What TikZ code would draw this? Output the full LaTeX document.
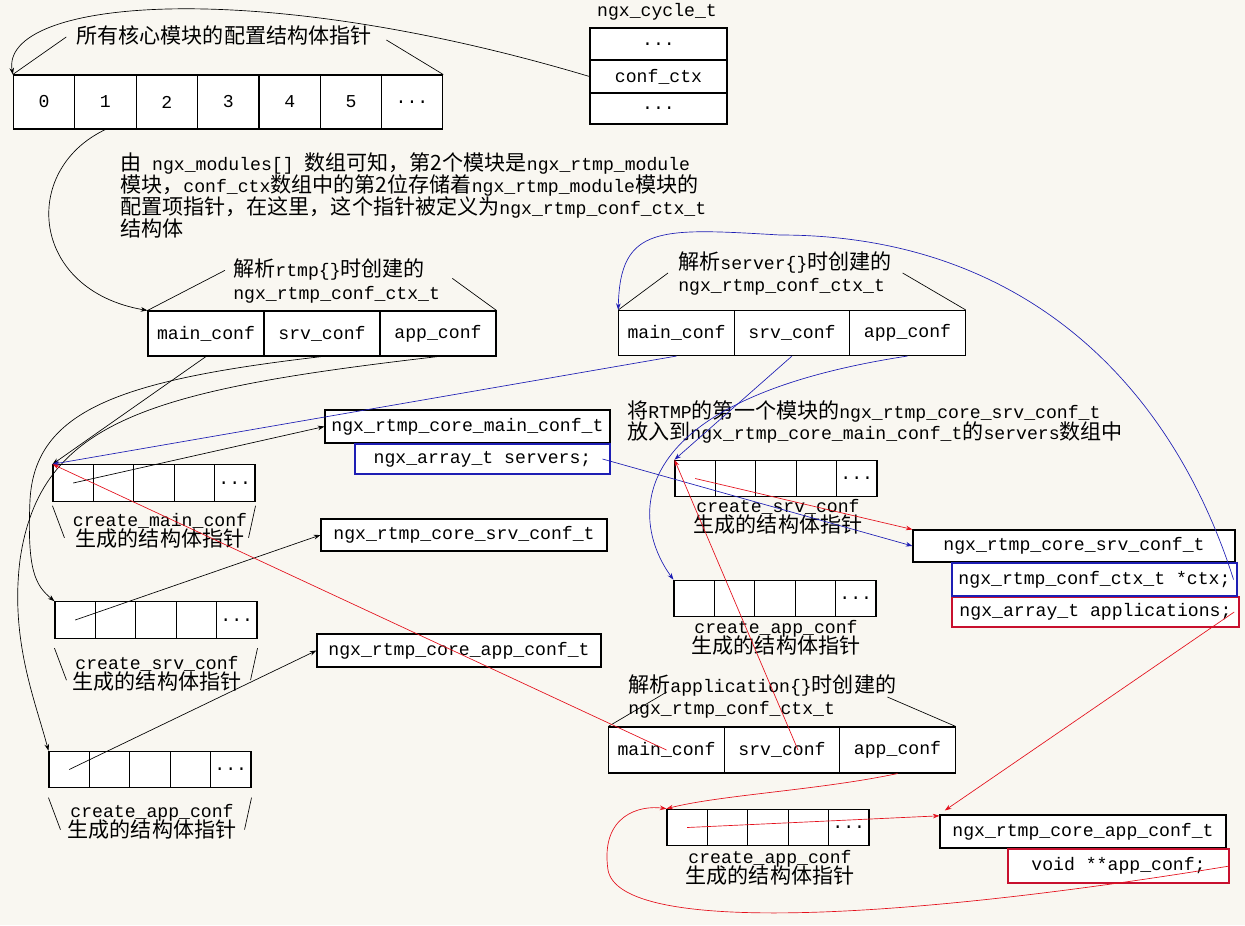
\documentclass[tikz,border=0pt]{standalone}
\usepackage{fontspec}
\setmainfont{Liberation Mono}
\newfontfamily\cjk{Noto Sans CJK SC}
\usetikzlibrary{arrows.meta}
\definecolor{rtBg}{HTML}{F9F7F1}
\definecolor{rtBlue}{HTML}{1E1EB4}
\definecolor{rtRed}{HTML}{E4101C}
\definecolor{rtCrimson}{HTML}{C8102E}
\newcommand\zh[1]{{\cjk\fontsize{15.8pt}{16pt}\selectfont #1}}
\newcommand\rtlead[1]{\fontsize{13.6pt}{#1}\selectfont\lineskiplimit=-30pt\relax}
\tikzset{
  rt cell/.style={draw, fill=white, line width=0.8pt, minimum width=30.3pt, minimum height=27.4pt, inner sep=0pt, font=\rtlead{16pt}},
  rt field/.style={draw, fill=white, line width=0.8pt, minimum height=24.75pt, inner sep=0pt, font=\rtlead{16pt}},
  rt label/.style={inner sep=0pt, font=\rtlead{15pt}},
  rt brace/.style={draw=black, line width=0.5pt},
  rt ptr/.style={draw=black, line width=0.5pt, -{Stealth[length=5pt,width=3.5pt]}},
  rt blue/.style={rt ptr, draw=rtBlue},
  rt red/.style={rt ptr, draw=rtRed},
}

\begin{document}
\begin{tikzpicture}[x=0.75pt,y=-0.75pt]
  \fill[rtBg] (0,0) rectangle (1245,925);
  \useasboundingbox (0,0) rectangle (1245,925);
  % conf_ctx array of ngx_cycle_t
  \foreach \i in {0,...,5}{\node[rt cell, minimum width=46pt, minimum height=40.5pt] (core\i) at (44+61.43*\i,102) {\i};}
  \node[rt cell, minimum width=46pt, minimum height=40.5pt] (core6) at (412,102) {...};
  \node[rt label] (coretitle) at (224,35) {\zh{所有核心模块的配置结构体指针}};
  \draw[rt brace] (core0.north west) -- ([xshift=-7.5pt,yshift=-1.5pt]coretitle.west);
  \draw[rt brace] ([xshift=11pt,yshift=-3.75pt]coretitle.east) -- (core6.north east);
  \node[rt label] (cycletitle) at (657,12) {ngx\_cycle\_t};
  \node[rt field, minimum width=102.75pt, minimum height=24pt] (cycletop) at (658.5,44) {...};
  \node[rt field, minimum width=102.75pt] (cyclectx) at (658.5,76.5) {conf\_ctx};
  \node[rt field, minimum width=102.75pt, minimum height=23.25pt] (cyclebot) at (658.5,108.5) {...};
  \node[rt label, anchor=north west, align=left, font=\rtlead{16.5pt}] (note) at (120,152)
    {\zh{由} ngx\_modules[] \zh{数组可知，第2个模块是}ngx\_rtmp\_module\\\zh{模块，}conf\_ctx\zh{数组中的第2位存储着}ngx\_rtmp\_module\zh{模块的}\\\zh{配置项指针，在这里，这个指针被定义为}ngx\_rtmp\_conf\_ctx\_t\\\zh{结构体}};
  % the three ngx_rtmp_conf_ctx_t
  \foreach \i/\t/\x in {main/main\_conf/206,srv/srv\_conf/322,app/app\_conf/438}{\node[rt field, minimum width=87pt, minimum height=33.75pt] (rtmp\i) at (\x,333.5) {\t};}
  \foreach \i/\t/\x in {main/main\_conf/676.5,srv/srv\_conf/792,app/app\_conf/907.5}{\node[rt field, minimum width=86.6pt, minimum height=33.75pt] (srv\i) at (\x,333) {\t};}
  \foreach \i/\t/\x in {main/main\_conf/666.5,srv/srv\_conf/782,app/app\_conf/897.5}{\node[rt field, minimum width=86.6pt, minimum height=34.5pt] (app\i) at (\x,750) {\t};}
  \node[rt label, anchor=west, align=left, font=\rtlead{17pt}] (rtmphead) at (233,281) {\zh{解析}rtmp\{\}\zh{时创建的}\\ngx\_rtmp\_conf\_ctx\_t};
  \node[rt label, anchor=west, align=left, font=\rtlead{16.5pt}] (srvhead) at (678,273) {\zh{解析}server\{\}\zh{时创建的}\\ngx\_rtmp\_conf\_ctx\_t};
  \node[rt label, anchor=west, align=left, font=\rtlead{16.5pt}] (apphead) at (628,696) {\zh{解析}application\{\}\zh{时创建的}\\ngx\_rtmp\_conf\_ctx\_t};
  \draw[rt brace] (rtmpmain.north west) -- ([xshift=-6pt,yshift=8pt]rtmphead.west);
  \draw[rt brace] ([xshift=9pt,yshift=2pt]rtmphead.east) -- (rtmpapp.north east);
  \draw[rt brace] (srvmain.north west) -- ([xshift=-7.5pt]srvhead.west);
  \draw[rt brace] ([xshift=8pt]srvhead.east) -- (srvapp.north east);
  \draw[rt brace] (appmain.north west) -- ([xshift=29pt,yshift=3pt]apphead.west);
  \draw[rt brace] ([xshift=-6.75pt,yshift=-0.75pt]apphead.east) -- (appapp.north east);
  % pointer arrays made by create_*_conf
  \foreach \n/\x/\y in {A/53/483,B/55/620,C/49/769.5,D/675/478.5,E/674/598.5,F/667/827.5}{
    \foreach \i in {0,...,3}{\node[rt cell] (\n\i) at (\x+20.2+40.4*\i,\y) {};}
    \node[rt cell] (\n4) at (\x+181.8,\y) {...};}
  \foreach \n/\t/\x/\y in {A/main/160/531,B/srv/157/673.5,C/app/152/822,D/srv/778/517,E/app/776/638,F/app/770/868}{\node[rt label, align=center] (\n label) at (\x,\y) {create\_\t\_conf\\\zh{生成的结构体指针}};}
  \foreach \n/\s in {A/3,B/7,C/7}{
    \draw[rt brace] ([yshift=-\s pt]\n0.south west) -- ++(12,32);
    \draw[rt brace] ([yshift=-\s pt]\n4.south east) -- ++(-7,32);}
  % module conf structs
  \node[rt field, minimum width=213.75pt] (mainL) at (467.5,426.5) {ngx\_rtmp\_core\_main\_conf\_t};
  \node[rt field, draw=rtBlue, minimum width=191.25pt, minimum height=22.5pt] (servers) at (482.5,459) {ngx\_array\_t servers;};
  \node[rt field, minimum width=214.5pt, minimum height=24pt] (srvL) at (464,535) {ngx\_rtmp\_core\_srv\_conf\_t};
  \node[rt field, minimum width=213pt] (appL) at (459,650.5) {ngx\_rtmp\_core\_app\_conf\_t};
  \node[rt label, anchor=north west, align=left, font=\rtlead{15.75pt}] (srvnote) at (627,400)
    {\zh{将}RTMP\zh{的第一个模块的}ngx\_rtmp\_core\_srv\_conf\_t\\\zh{放入到}ngx\_rtmp\_core\_main\_conf\_t\zh{的}servers\zh{数组中}};
  \node[rt field, minimum width=241.5pt, minimum height=24pt] (rsrv) at (1074,546) {ngx\_rtmp\_core\_srv\_conf\_t};
  \node[rt field, draw=rtCrimson, minimum width=215.25pt, minimum height=22.5pt] (apps) at (1095.5,612) {ngx\_array\_t applications;};
  \node[rt field, draw=rtBlue, minimum width=213.75pt] (ctxfield) at (1094.5,579.5) {ngx\_rtmp\_conf\_ctx\_t *ctx;};
  \node[rt field, minimum width=214.5pt] (rapp) at (1083,831.5) {ngx\_rtmp\_core\_app\_conf\_t};
  \node[rt field, draw=rtCrimson, minimum width=165.75pt, minimum height=25.5pt] (voidf) at (1118.5,866) {void **app\_conf;};
  % black pointers
  \draw[rt ptr] (cyclectx.west) .. controls (250,-25) and (0,0) .. (core0.north west);
  \draw[rt ptr] (core1.south) .. controls (20,170) and (30,290) .. (rtmpmain.north west);
  \draw[rt ptr] (rtmpmain.south) -- (A0.north west);
  \draw[rt ptr] (rtmpsrv.south) .. controls (120,380) and (35,410) .. (30,500) .. controls (27,570) and (35,585) .. (B0.north west);
  \draw[rt ptr] (rtmpapp.south) .. controls (150,390) and (40,420) .. (20,560) .. controls (10,640) and (35,700) .. (C0.north west);
  \draw[rt ptr] (A0.center) -- (mainL.west);
  \draw[rt ptr] (B0.center) -- (srvL.west);
  \draw[rt ptr] (C0.center) -- (appL.west);
  % blue pointers
  \draw[rt blue] (srvmain.south) -- (A0.north west);
  \draw[rt blue] (srvsrv.south) -- (D0.north west);
  \draw[rt blue] (srvapp.south) .. controls (620,400) and (630,520) .. (E0.north west);
  \draw[rt blue] ([xshift=-6pt]servers.east) -- (rsrv.west);
  \draw[rt blue] ([xshift=-3pt]ctxfield.east) .. controls (1170,380) and (1020,235) .. (780,235) .. controls (660,228) and (620,225) .. (srvmain.north west);
  % red pointers
  \draw[rt red] (D0.center) -- (rsrv.north west);
  \draw[rt red] (appmain.center) -- (A0.north west);
  \draw[rt red] ([xshift=12pt]appsrv.center) -- (D0.north west);
  \draw[rt red] (appapp.south) .. controls (820,790) and (720,795) .. (F0.north west);
  \draw[rt red] (F0.center) -- ([yshift=-1pt]rapp.north west);
  \draw[rt red] ([xshift=-4pt]apps.east) -- ([xshift=4pt,yshift=3pt]rapp.north west);
  \draw[rt red] (voidf.east) .. controls (900,920) and (620,935) .. (608,870) .. controls (600,815) and (640,805) .. (F0.north west);
\end{tikzpicture}
\end{document}
